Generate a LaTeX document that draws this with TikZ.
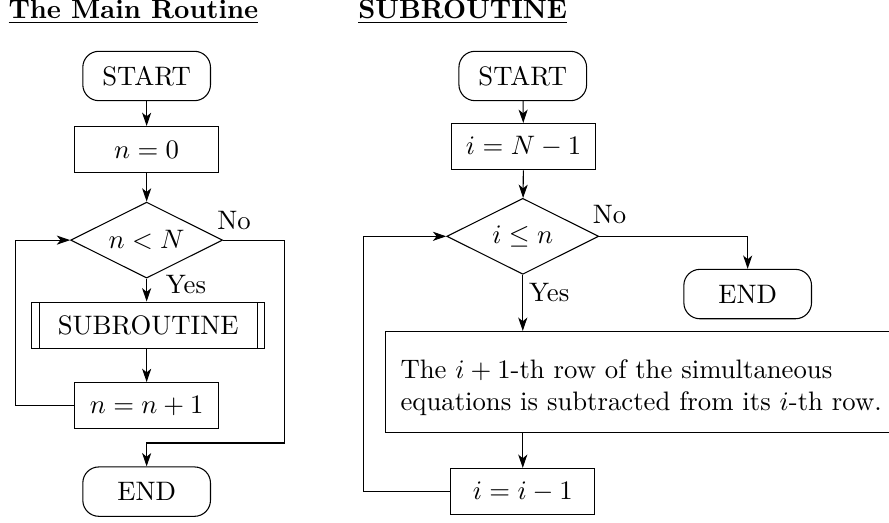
\documentclass[tikz,border=0pt]{standalone}
\usetikzlibrary{shapes.geometric,arrows.meta}
\begin{document}
\begin{tikzpicture}[>={Stealth[length=5pt,width=3.4pt,inset=1.4pt]},
  term/.style={draw,rectangle,rounded corners=6pt,minimum width=1.68cm,minimum height=0.65cm},
  proc/.style={draw,rectangle,minimum width=1.9cm,minimum height=0.61cm},
  cond/.style={draw,diamond,aspect=2,minimum width=2cm,minimum height=1cm,inner sep=0pt},
  subr/.style={draw,rectangle,minimum width=3.07cm,minimum height=0.61cm,
    path picture={
      \draw ([xshift=0.1cm]path picture bounding box.north west)--([xshift=0.1cm]path picture bounding box.south west);
      \draw ([xshift=-0.1cm]path picture bounding box.north east)--([xshift=-0.1cm]path picture bounding box.south east);}},
  lbl/.style={inner sep=0pt}]
\useasboundingbox (0,0) rectangle (11.7,-6.883);
% main routine
\node[lbl,anchor=base west] (title1) at (0.105,-0.237) {\underline{\textbf{The Main Routine}}};
\node[term] (start1) at (1.93,-1.0) {START};
\node[proc] (n0) at (1.93,-1.97) {$n=0$};
\node[cond] (cond1) at (1.93,-3.16) {$n<N$};
\node[subr] (sub) at (1.95,-4.28) {SUBROUTINE};
\node[proc] (inc) at (1.93,-5.34) {$n=n+1$};
\node[term] (end1) at (1.93,-6.47) {END};
\coordinate (loop1) at (0.21,-4);
\coordinate (join1) at (3.75,-5.83);
\draw[->] (start1)--(n0);
\draw[->] (n0)--(cond1);
\draw[->] (cond1.south)--(cond1.south|-sub.north);
\draw[->] (sub.south-|inc.north)--(inc.north);
\draw[->] (inc.west)--(inc.west-|loop1)|-(cond1.west);
\draw[->] (cond1.east)-|(join1)-|(end1.north);
\node[lbl,anchor=south west,xshift=-2.4pt,yshift=3.8pt] (no1) at (cond1.east) {No};
\node[lbl,anchor=north west,xshift=7pt,yshift=1.4pt] (yes1) at (cond1.south) {Yes};
% subroutine
\node[lbl,anchor=base west] (title2) at (4.71,-0.237) {\underline{\textbf{SUBROUTINE}}};
\node[term] (start2) at (6.88,-1.0) {START};
\node[proc] (init) at (6.89,-1.93) {$i=N-1$};
\node[cond] (cond2) at (6.88,-3.11) {$i\le n$};
\node[term] (end2) at (9.84,-3.87) {END};
\node[draw,anchor=north west,text width=6.6cm,inner xsep=0.2cm,minimum height=1.33cm,align=left] (rowop) at (5.065,-4.355)
  {\rule{0pt}{11.5pt}The $i+1$-th row of the simultaneous\\equations is subtracted from its $i$-th row.};
\node[proc] (dec) at (6.88,-6.47) {$i=i-1$};
\coordinate (loop2) at (4.78,-5);
\draw[->] (start2)--(init);
\draw[->] (init)--(cond2);
\draw[->] (cond2.east)-|(end2.north);
\draw[->] (cond2.south)--(cond2.south|-rowop.north);
\draw[->] (rowop.south-|dec.north)--(dec.north);
\draw[->] (dec.west)--(dec.west-|loop2)|-(cond2.west);
\node[lbl,anchor=south west,xshift=-2.6pt,yshift=4.4pt] (no2) at (cond2.east) {No};
\node[lbl,anchor=north west,xshift=2.2pt,yshift=-3pt] (yes2) at (cond2.south) {Yes};
\end{tikzpicture}
\end{document}
